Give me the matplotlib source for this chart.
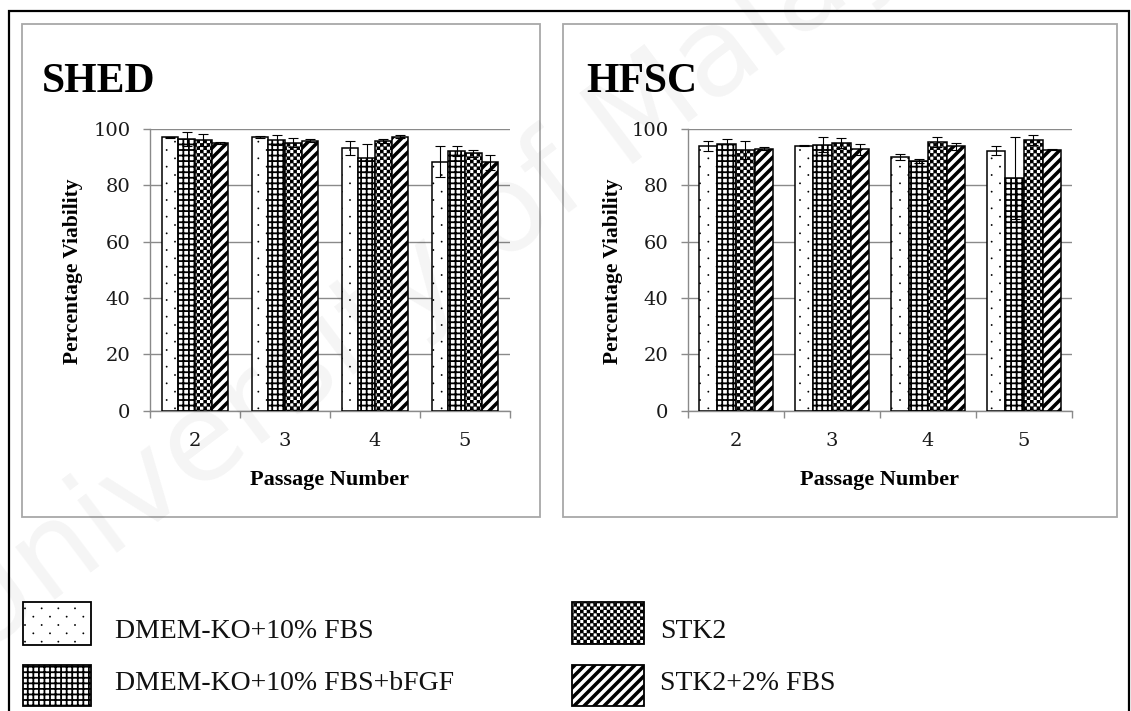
import warnings

import numpy as np
import matplotlib
matplotlib.use("Agg")
import matplotlib.pyplot as plt
import matplotlib.hatch as mhatch
from matplotlib.path import Path
from matplotlib.patches import Rectangle

warnings.filterwarnings("ignore")

# ---------------------------------------------------------------- data
passages = ["2", "3", "4", "5"]
media = ["DMEM-KO+10% FBS", "DMEM-KO+10% FBS+bFGF", "STK2", "STK2+2% FBS"]

# one row per medium, one column per passage (2, 3, 4, 5)
shed_mean = [
    [97.0, 97.2, 93.3, 88.4],
    [96.5, 96.1, 89.8, 92.1],
    [96.1, 95.1, 95.7, 91.4],
    [95.0, 95.9, 97.2, 88.2],
]
shed_err = [
    [0.3, 0.3, 2.4, 5.4],
    [2.5, 1.9, 4.9, 1.7],
    [2.1, 1.6, 0.6, 1.3],
    [0.4, 0.4, 0.5, 2.7],
]
hfsc_mean = [
    [94.0, 94.0, 90.1, 92.2],
    [94.5, 94.4, 88.8, 82.5],
    [92.5, 95.0, 95.5, 96.1],
    [93.0, 92.8, 93.8, 92.6],
]
hfsc_err = [
    [1.9, 0.2, 1.1, 1.6],
    [1.9, 2.6, 0.7, 14.5],
    [3.3, 1.9, 1.8, 1.8],
    [0.6, 1.9, 1.4, 0.2],
]

# hatch codes: d = dots, g = grid, c = checkerboard, z = wide stripes
media_hatch = ["d", "g", "c", "z"]


# ---------------------------------------------------------------- hatches
def _poly(pts):
    pts = np.asarray(pts, float)
    v = np.vstack([pts, pts[:1]])
    c = np.full(len(v), Path.LINETO, dtype=Path.code_type)
    c[0] = Path.MOVETO
    c[-1] = Path.CLOSEPOLY
    return v, c


def _dots(ncol=6, nrow=12, r=0.0095):
    ang = np.linspace(0, 2 * np.pi, 12, endpoint=False)
    ring = np.column_stack([np.cos(ang), np.sin(ang)]) * r
    parts = []
    for row in range(nrow + 1):
        y = row / nrow
        shift = 0.5 / ncol if row % 2 else 0.0
        for col in range(ncol + 1):
            x = col / ncol + shift
            parts.append(_poly(ring + [x, y]))
    return parts


def _grid(n=18, t=0.018):
    parts = []
    for k in range(n + 1):
        p = k / n
        parts.append(_poly([(-0.01, p - t / 2), (1.01, p - t / 2),
                            (1.01, p + t / 2), (-0.01, p + t / 2)]))
        parts.append(_poly([(p - t / 2, -0.01), (p + t / 2, -0.01),
                            (p + t / 2, 1.01), (p - t / 2, 1.01)]))
    return parts


def _checker(n=15, grow=1.08):
    s = 1.0 / (2 * n)
    a = s * grow
    parts = []
    for i in range(2 * n):
        for j in range(2 * n):
            if (i + j) % 2 == 0:
                x, y = i * s, j * s
                parts.append(_poly([(x, y), (x + a, y), (x + a, y + a), (x, y + a)]))
    return parts


def _stripes(period=0.1, h=0.025):
    parts = []
    x0, x1 = -0.1, 1.1
    for c in np.arange(-1.2, 1.2 + 1e-9, period):
        parts.append(_poly([(x0, x0 + c - h), (x1, x1 + c - h),
                            (x1, x1 + c + h), (x0, x0 + c + h)]))
    return parts


class FilledPatternHatch(mhatch.HatchPatternBase):
    """Filled-shape hatch patterns: dots, grid, checkerboard, stripes."""

    def __init__(self, hatch, density):
        parts = []
        if "d" in hatch:
            parts += _dots()
        if "g" in hatch:
            parts += _grid()
        if "c" in hatch:
            parts += _checker()
        if "z" in hatch:
            parts += _stripes()
        if parts:
            self._verts = np.concatenate([p[0] for p in parts])
            self._codes = np.concatenate([p[1] for p in parts])
        else:
            self._verts = np.empty((0, 2))
            self._codes = np.empty(0, dtype=Path.code_type)
        self.num_vertices = len(self._verts)

    def set_vertices_and_codes(self, vertices, codes):
        vertices[:] = self._verts
        codes[:] = self._codes


mhatch._hatch_types.append(FilledPatternHatch)

plt.rcParams["hatch.linewidth"] = 0.0
plt.rcParams["hatch.color"] = "black"

# ---------------------------------------------------------------- figure
W, H = 1131, 711
fig = plt.figure(figsize=(W / 100, H / 100), dpi=100)
fig.patch.set_facecolor("white")


def fx(px):
    return px / W


def fy(py):
    return 1 - py / H


SERIF = "Liberation Serif"
TICKFONT = "DejaVu Serif"
AXIS_GRAY = "#8a8a8a"

# outer frame and panel frames
fig.patches.append(Rectangle((fx(8.5), -0.02), fx(1128.5) - fx(8.5), fy(10.5) + 0.02,
                             transform=fig.transFigure, fill=False,
                             edgecolor="black", lw=1.6, zorder=0))
for x0, x1 in [(21.5, 540), (563, 1117)]:
    fig.patches.append(Rectangle((fx(x0), fy(517)), fx(x1) - fx(x0), fy(24) - fy(517),
                                 transform=fig.transFigure, fill=False,
                                 edgecolor="#a8a8a8", lw=1.3, zorder=0))


def draw_panel(rect, title, title_x, ylabel_x, means, errs, bar_w):
    ax = fig.add_axes(rect)
    x = np.arange(len(passages))
    n = len(media)
    for i in range(n):
        pos = x + (i - (n - 1) / 2) * bar_w
        ax.bar(pos, means[i], width=bar_w, facecolor="white", edgecolor="black",
               linewidth=1.1, hatch=media_hatch[i], zorder=3)
        ax.errorbar(pos, means[i], yerr=errs[i], fmt="none", ecolor="black",
                    elinewidth=0.8, capsize=3.6, capthick=0.8, zorder=4)
    ax.set_xlim(-0.5, len(passages) - 0.5)
    ax.set_ylim(0, 100)
    ax.set_yticks(np.arange(0, 101, 20))
    ax.set_xticks(x)
    ax.set_xticklabels(passages)
    ax.set_xticks(np.arange(-0.5, len(passages), 1.0), minor=True)
    ax.tick_params(axis="x", which="major", length=0, pad=15,
                   labelsize=14, labelcolor="#1a1a1a")
    ax.tick_params(axis="x", which="minor", length=5, width=1, color=AXIS_GRAY,
                   direction="out")
    ax.tick_params(axis="y", length=5, width=1, color=AXIS_GRAY, direction="out",
                   pad=9, labelsize=14, labelcolor="#1a1a1a")
    for lab in ax.get_xticklabels() + ax.get_yticklabels():
        lab.set_family(TICKFONT)
    ax.yaxis.grid(True, color=AXIS_GRAY, lw=1.0, zorder=0)
    ax.set_axisbelow(True)
    for side in ("top", "right"):
        ax.spines[side].set_visible(False)
    for side in ("left", "bottom"):
        ax.spines[side].set_color(AXIS_GRAY)
        ax.spines[side].set_linewidth(1.0)
    ax.patch.set_alpha(0)

    ax.text(0.5, -0.262, "Passage Number", transform=ax.transAxes, ha="center",
            va="baseline", fontsize=16, fontweight="bold", family=SERIF)
    fig.text(fx(ylabel_x), fy(271), "Percentage Viability", rotation=90,
             ha="center", va="center", fontsize=15.5, fontweight="bold", family=SERIF)
    fig.text(fx(title_x), fy(92), title, ha="left", va="baseline",
             fontsize=30, fontweight="bold", family=SERIF)
    return ax


draw_panel([fx(150), fy(410.7), 360 / W, 281.7 / H], "SHED", 42, 73,
           shed_mean, shed_err, 0.186)
draw_panel([fx(688), fy(410.7), 384 / W, 281.7 / H], "HFSC", 586, 613,
           hfsc_mean, hfsc_err, 0.195)

# legend
legend_boxes = [(23, 602, 91, 645), (23, 665, 91, 706),
                (572, 602, 644, 644), (572, 665, 644, 706)]
legend_text_x = [115, 115, 660, 660]
legend_text_y = [638, 690, 638, 690]
for i, (x0, y0, x1, y1) in enumerate(legend_boxes):
    fig.patches.append(Rectangle((fx(x0), fy(y1)), fx(x1) - fx(x0), fy(y0) - fy(y1),
                                 transform=fig.transFigure, facecolor="white",
                                 edgecolor="black", lw=1.3, hatch=media_hatch[i],
                                 zorder=2))
    fig.text(fx(legend_text_x[i]), fy(legend_text_y[i]), media[i], ha="left",
             va="baseline", fontsize=20, family=SERIF, color="#111111")

# faint watermark across the page
fig.text(fx(-25), fy(660), "University of Malaya", rotation=37, rotation_mode="anchor",
         ha="left", va="baseline", fontsize=88, family="DejaVu Sans",
         color="black", alpha=0.045, zorder=10)

fig.savefig("out.png", dpi=100, facecolor="white")
